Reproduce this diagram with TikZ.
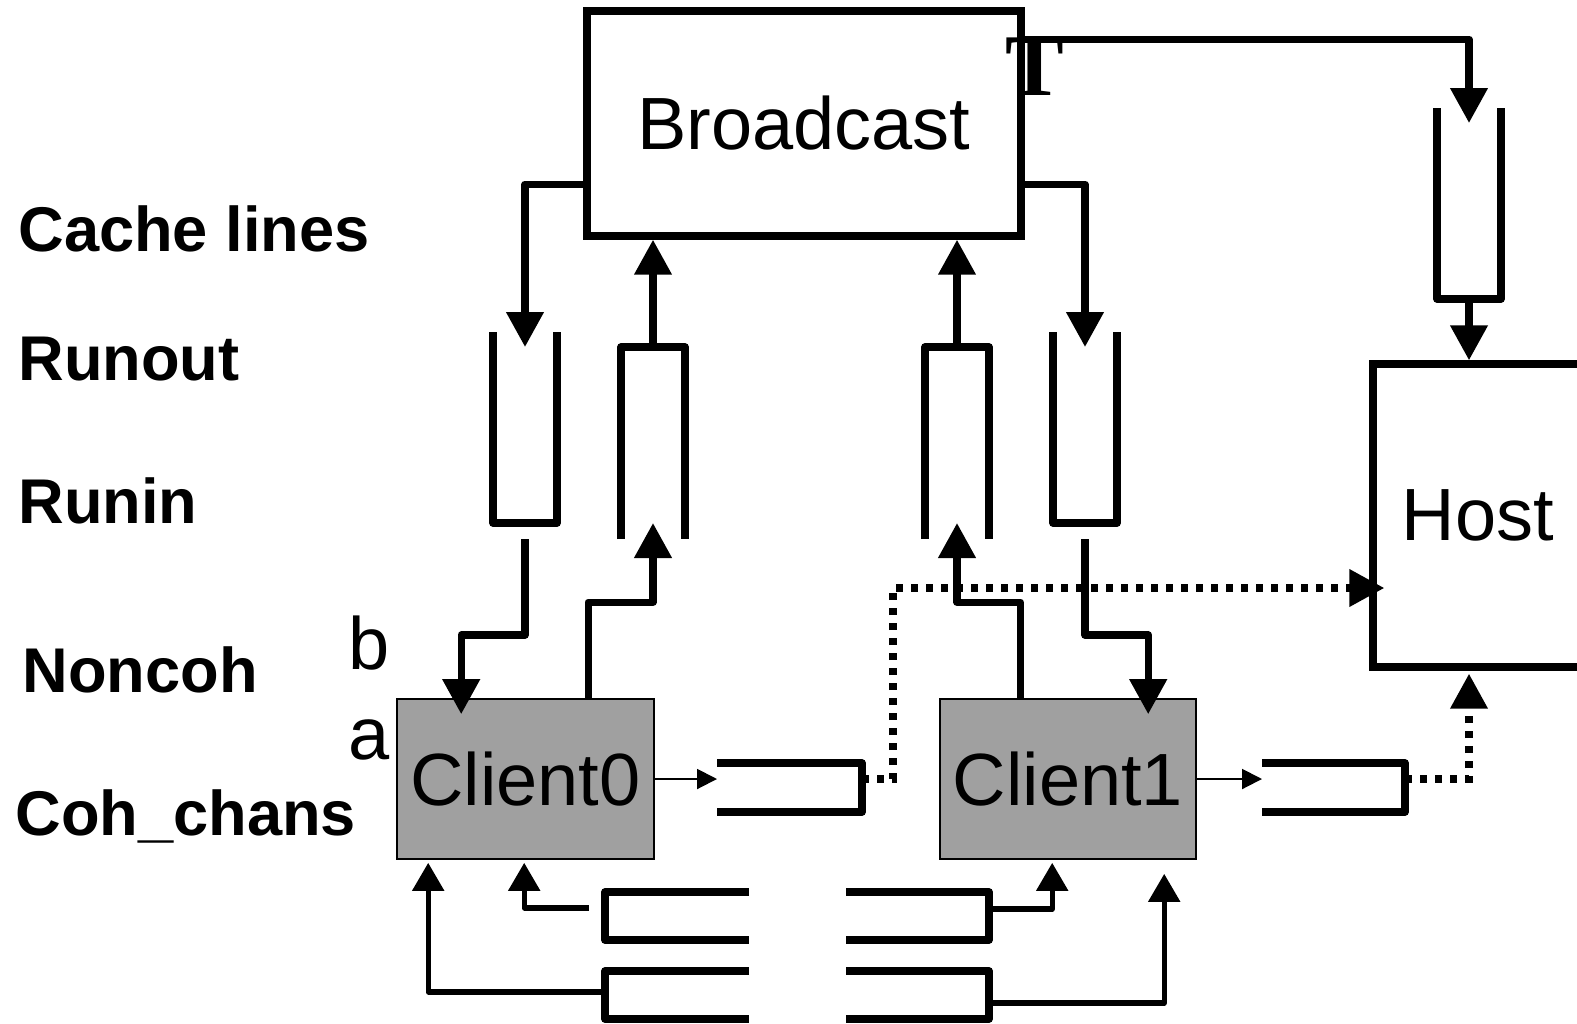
\documentclass[tikz,border=0pt]{standalone}
\usepackage{fontspec}
\setmainfont{Liberation Sans}
\newfontfamily\serifTbold{Liberation Serif Bold}
\usetikzlibrary{arrows.meta,calc}
\definecolor{clientfill}{RGB}{160,160,160}
\begin{document}
\begin{tikzpicture}[x=0.5pt,y=-0.5pt,
  box/.style={draw, line width=3.7pt, inner sep=0pt, font=\fontsize{37}{40}\selectfont},
  client/.style={draw, line width=0.8pt, fill=clientfill, inner sep=0pt, font=\fontsize{37}{40}\selectfont},
  lbl/.style={anchor=base west, inner sep=0pt, font=\bfseries\fontsize{31.6}{34}\selectfont},
  letter/.style={anchor=base west, inner sep=0pt, font=\fontsize{37}{40}\selectfont},
  qslot/.style={inner sep=0pt, outer sep=0pt},
  wall/.style={line width=3.7pt, line join=round},
  bigarr/.style={line width=3.7pt, line join=round, -{Triangle[length=17.5pt,width=18pt]}},
  botarr/.style={line width=2.6pt, line join=round, -{Triangle[length=14pt,width=15.5pt]}},
  thinarr/.style={line width=1pt, -{Triangle[length=10pt,width=10pt]}},
  dotarr/.style={line width=3.6pt, dash pattern=on 3.6pt off 3.9pt, -{Triangle[length=17.5pt,width=18pt]}}
]
\clip (0,0) rectangle (1577,1023);

% main boxes
\node[box, minimum width=217pt, minimum height=112.5pt] (bc) at (804,123.5) {Broadcast};
\node[box, minimum width=108pt, minimum height=151.5pt] (host) at (1481,515.5) {\hspace*{-3pt}Host};
\node[client, minimum width=128.5pt, minimum height=80pt] (c0) at (525.5,779) {Client0};
\node[client, minimum width=128pt, minimum height=80pt] (c1) at (1068,779) {Client1};

% left labels
\node[lbl] (lcache) at (18,251) {Cache lines};
\node[lbl] (lrunout) at (18,380) {Runout};
\node[lbl] (lrunin) at (18,523) {Runin};
\node[lbl] (lnoncoh) at (22,692) {Noncoh};
\node[lbl] (lcoh) at (15,835) {Coh\_chans};
\node[letter] (lb) at (348,669) {b};
\node[letter] (la) at (348,759) {a};

% queue slots
\node[qslot, minimum width=32pt, minimum height=95.5pt] (q1) at (525,427.5) {};
\node[qslot, minimum width=32pt, minimum height=96pt] (q2) at (653,443) {};
\node[qslot, minimum width=32pt, minimum height=96pt] (q3) at (957,443) {};
\node[qslot, minimum width=32pt, minimum height=95.5pt] (q4) at (1085,427.5) {};
\node[qslot, minimum width=32pt, minimum height=95.5pt] (q5) at (1469,203.5) {};
\node[qslot, minimum width=72.5pt, minimum height=24.5pt] (qc0) at (789.5,787.5) {};
\node[qslot, minimum width=71.5pt, minimum height=24.5pt] (qc1) at (1333.5,787.5) {};
\node[qslot, minimum width=72pt, minimum height=24pt] (qb1) at (677,916) {};
\node[qslot, minimum width=72pt, minimum height=24pt] (qb2) at (677,995) {};
\node[qslot, minimum width=71.5pt, minimum height=24pt] (qb3) at (917.5,916) {};
\node[qslot, minimum width=71.5pt, minimum height=24pt] (qb4) at (917.5,995) {};

% queue walls
\foreach \q in {q1,q4,q5}
  \draw[wall] (\q.north west) -- (\q.south west) -- (\q.south east) -- (\q.north east);
\foreach \q in {q2,q3}
  \draw[wall] (\q.south west) -- (\q.north west) -- (\q.north east) -- (\q.south east);
\foreach \q in {qc0,qc1,qb3,qb4}
  \draw[wall] (\q.north west) -- (\q.north east) -- (\q.south east) -- (\q.south west);
\foreach \q in {qb1,qb2}
  \draw[wall] (\q.north east) -- (\q.north west) -- (\q.south west) -- (\q.south east);

% broadcast connections
\draw[bigarr] ($(bc.north west)+(0,177)$) -| ($(q1.north)+(0,15)$);
\draw[bigarr] ($(bc.north east)+(0,177)$) -| ($(q4.north)+(0,15)$);
\draw[bigarr] (q2.north) -- (q2.north |- bc.south);
\draw[bigarr] (q3.north) -- (q3.north |- bc.south);
\draw[bigarr] ($(bc.north east)+(0,32)$) -| ($(q5.north)+(0,15)$);
\draw[bigarr] (q5.south) -- (q5.south |- host.north);
\node[anchor=base, inner sep=0pt, font=\serifTbold\fontsize{44}{48}\selectfont] (tmark) at (1035,95) {T};

% client runin/runout
\draw[bigarr] ($(q1.south)+(0,16)$) -- ++(0,96) -| ($(c0.north west)+(65,16)$);
\draw[bigarr] ($(c0.north west)+(192,0)$) -- ++(0,-96) -| ($(q2.south)+(0,-16)$);
\draw[bigarr] ($(c1.north west)+(81,0)$) -- ++(0,-96) -| ($(q3.south)+(0,-16)$);
\draw[bigarr] ($(q4.south)+(0,16)$) -- ++(0,96) -| ($(c1.north west)+(209,16)$);

% noncoh to host
\draw[thinarr] (c0.east) -- (c0.east -| qc0.west);
\draw[thinarr] (c1.east) -- (c1.east -| qc1.west);
\draw[dotarr] ($(qc0.east)+(0,-8.5)$) -- ++(31,0) |- ($(host.west)+(15,72.5)$);
\draw[dotarr] ($(qc1.east)+(0,-8.5)$) -| ($(host.south)+(-12,3)$);

% coherence channels
\draw[botarr] ($(qb1.west)+(-16,-8)$) -| ($(c0.south west)+(128,3)$);
\draw[botarr] ($(qb2.west)+(0,-3)$) -| ($(c0.south west)+(32,3)$);
\draw[botarr] ($(qb3.east)+(0,-7)$) -| ($(c1.south west)+(113,3)$);
\draw[botarr] ($(qb4.east)+(0,8)$) -| ($(c1.south west)+(225,14)$);
\end{tikzpicture}
\end{document}
